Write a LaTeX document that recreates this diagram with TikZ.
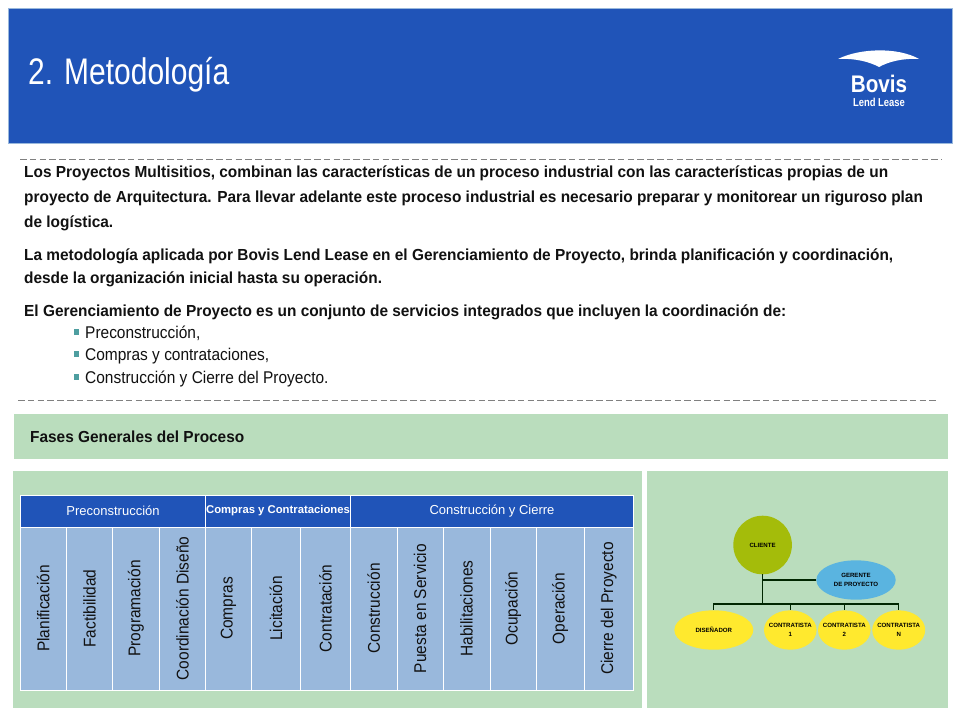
\documentclass[tikz,border=0pt]{standalone}
\usepackage{fontspec}
\setmainfont{Liberation Sans}
\usetikzlibrary{positioning}
\usetikzlibrary{shapes.geometric}
\definecolor{bandblue}{HTML}{2054B8}
\definecolor{panelgreen}{HTML}{BADDBD}
\definecolor{cellblue}{HTML}{99B8DC}
\definecolor{clientgreen}{HTML}{A4BC0A}
\definecolor{managerblue}{HTML}{5AB4E0}
\definecolor{partyyellow}{HTML}{FFE92E}
\definecolor{bulletteal}{HTML}{4E9EA0}
\definecolor{bodyblack}{HTML}{111111}
\newcommand{\celltext}[1]{\rotatebox{90}{\scalebox{0.91}[1]{#1}}}
\begin{document}
\begin{tikzpicture}[x=1pt,y=-1pt]
            \tikzset{panel/.style={fill=panelgreen, draw=none, anchor=north west, inner sep=0pt, outer sep=0pt}}
            \tikzset{dashrule/.style={draw=gray, line width=0.7pt, dash pattern=on 6.5pt off 3.3pt}}
            \tikzset{para/.style={anchor=north west, inner sep=0pt, align=left, text=bodyblack, xscale=0.963}}
            \tikzset{bulletmark/.style={fill=bulletteal, inner sep=0pt, minimum size=5.5pt}}
            \tikzset{bullettext/.style={anchor=west, inner sep=0pt, text=bodyblack, xscale=0.91, font=\fontsize{17}{19}\selectfont}}
            \tikzset{phase/.style={fill=bandblue, draw=white, line width=0.8pt, text=white, inner sep=0pt, outer sep=0pt, minimum height=32pt, anchor=north west}}
            \tikzset{cell/.style={fill=cellblue, draw=white, line width=0.8pt, text=bodyblack, inner sep=0pt, outer sep=0pt, minimum height=163pt, anchor=north west, font=\fontsize{17}{19}\selectfont}}
            \tikzset{party/.style={ellipse, fill=partyyellow, inner sep=-4pt, outer sep=0pt, minimum height=39.4pt, align=center, font=\fontsize{6.1}{9}\selectfont\bfseries}}
            \tikzset{wire/.style={draw=black!85!green, line width=1.1pt}}
            \useasboundingbox (0,0) rectangle (960,720);
            \fill[white] (0,0) rectangle (960,720);
            % header band
            \node (band) [fill=bandblue, draw=cellblue, line width=0.6pt, anchor=north west, inner sep=0pt, outer sep=0pt, minimum width=944pt, minimum height=135pt] at (8,8) {};
            \node (title) [anchor=west, inner sep=0pt, text=white, xscale=0.81, font=\fontsize{37}{40}\selectfont] at (28,75) {2. Metodología};
            \fill[white] (838,59) .. controls (860,48) and (898,47) .. (919,59)
            .. controls (902,58) and (888,62) .. (879,67)
            .. controls (870,62) and (855,58) .. (838,59);
            \node (bovis) [inner sep=0pt, text=white, xscale=0.86, font=\fontsize{24}{26}\selectfont\bfseries] at (879,84) {Bovis};
            \node (lease) [inner sep=0pt, text=white, xscale=0.82, font=\fontsize{11.5}{13}\selectfont\bfseries] at (879,102) {Lend Lease};
            % text block
            \draw[dashrule] (20,159) -- (942,159);
            \node (intro) [para, font=\fontsize{16}{25}\selectfont\bfseries] at (24,166) {Los Proyectos Multisitios, combinan las características de un proceso industrial con las características propias de un\\
            proyecto de Arquitectura. Para llevar adelante este proceso industrial es necesario preparar y monitorear un riguroso plan\\
            de logística.};
            \node (method) [para, font=\fontsize{16}{23}\selectfont\bfseries] at (24,249) {La metodología aplicada por Bovis Lend Lease en el Gerenciamiento de Proyecto, brinda planificación y coordinación,\\
            desde la organización inicial hasta su operación.};
            \node (services) [para, font=\fontsize{16}{25}\selectfont\bfseries] at (24,305) {El Gerenciamiento de Proyecto es un conjunto de servicios integrados que incluyen la coordinación de:};
            \node (b1) [bulletmark] at (76.5,332) {};
            \node (b2) [bulletmark] at (76.5,354) {};
            \node (b3) [bulletmark] at (76.5,377) {};
            \node (t1) [bullettext] at (85,333.5) {Preconstrucción,};
            \node (t2) [bullettext] at (85,356) {Compras y contrataciones,};
            \node (t3) [bullettext] at (85,379) {Construcción y Cierre del Proyecto.};
            \draw[dashrule] (18,400) -- (938,400);
            % green panels
            \node (fases) [panel, minimum width=934pt, minimum height=45pt] at (14,414) {};
            \node (fasestext) [anchor=west, inner sep=0pt, text=bodyblack, xscale=0.963, font=\fontsize{16}{18}\selectfont\bfseries] at (30,437) {Fases Generales del Proceso};
            \node (left) [panel, minimum width=629pt, minimum height=237pt] at (13,471) {};
            \node (right) [panel, minimum width=301pt, minimum height=237pt] at (647,471) {};
            % phases table
            \node (pre) [phase, minimum width=185pt, font=\fontsize{13}{15}\selectfont] at (20.5,495) {Preconstrucción};
            \node (com) [phase, minimum width=145pt, font=\fontsize{11.3}{13}\selectfont\bfseries] at (205.5,495) {Compras y Contrataciones};
            \node (con) [phase, minimum width=283pt, font=\fontsize{13}{15}\selectfont] at (350.5,495) {Construcción y Cierre};
            \node (c1) [cell, minimum width=46.5pt] at (20,527) {\celltext{Planificación}};
            \node (c2) [cell, minimum width=46pt] at (66.5,527) {\celltext{Factibilidad}};
            \node (c3) [cell, minimum width=47pt] at (112.5,527) {\celltext{Programación}};
            \node (c4) [cell, minimum width=46pt] at (159.5,527) {\celltext{Coordinación Diseño}};
            \node (c5) [cell, minimum width=46pt] at (205.5,527) {\celltext{Compras}};
            \node (c6) [cell, minimum width=49pt] at (251.5,527) {\celltext{Licitación}};
            \node (c7) [cell, minimum width=50pt] at (300.5,527) {\celltext{Contratación}};
            \node (c8) [cell, minimum width=46.5pt] at (350.5,527) {\celltext{Construcción}};
            \node (c9) [cell, minimum width=46pt] at (397,527) {\celltext{Puesta en Servicio}};
            \node (c10) [cell, minimum width=47pt] at (443,527) {\celltext{Habilitaciones}};
            \node (c11) [cell, minimum width=46pt] at (490,527) {\celltext{Ocupación}};
            \node (c12) [cell, minimum width=48pt] at (536,527) {\celltext{Operación}};
            \node (c13) [cell, minimum width=49.5pt] at (584,527) {\celltext{Cierre del Proyecto}};
            % org chart
            \node (cliente) [circle, fill=clientgreen, inner sep=0pt, outer sep=0pt, minimum size=58.6pt, font=\fontsize{6.1}{9}\selectfont\bfseries] at (762.6,545) {CLIENTE};
            \node (gerente) [party, fill=managerblue, minimum width=79.4pt] at (856,580) {GERENTE\\DE PROYECTO};
            \node (disenador) [party, minimum width=79pt] at (713.8,630) {DISEÑADOR};
            \node (cont1) [party, minimum width=52.6pt] at (790.3,630) {CONTRATISTA\\1};
            \node (cont2) [party, minimum width=52.6pt] at (844.3,630) {CONTRATISTA\\2};
            \node (contn) [party, minimum width=53pt] at (898.7,630) {CONTRATISTA\\N};
            \coordinate (bus) at (762.6,604);
            \draw[wire] (cliente.south) -- (bus);
            \draw[wire] (gerente.west) -- (cliente.south |- gerente.west);
            \draw[wire] (bus) -| (disenador.north);
            \draw[wire] (bus) -| (cont1.north);
            \draw[wire] (bus) -| (cont2.north);
            \draw[wire] (bus) -| (contn.north);
        \end{tikzpicture}
\end{document}
